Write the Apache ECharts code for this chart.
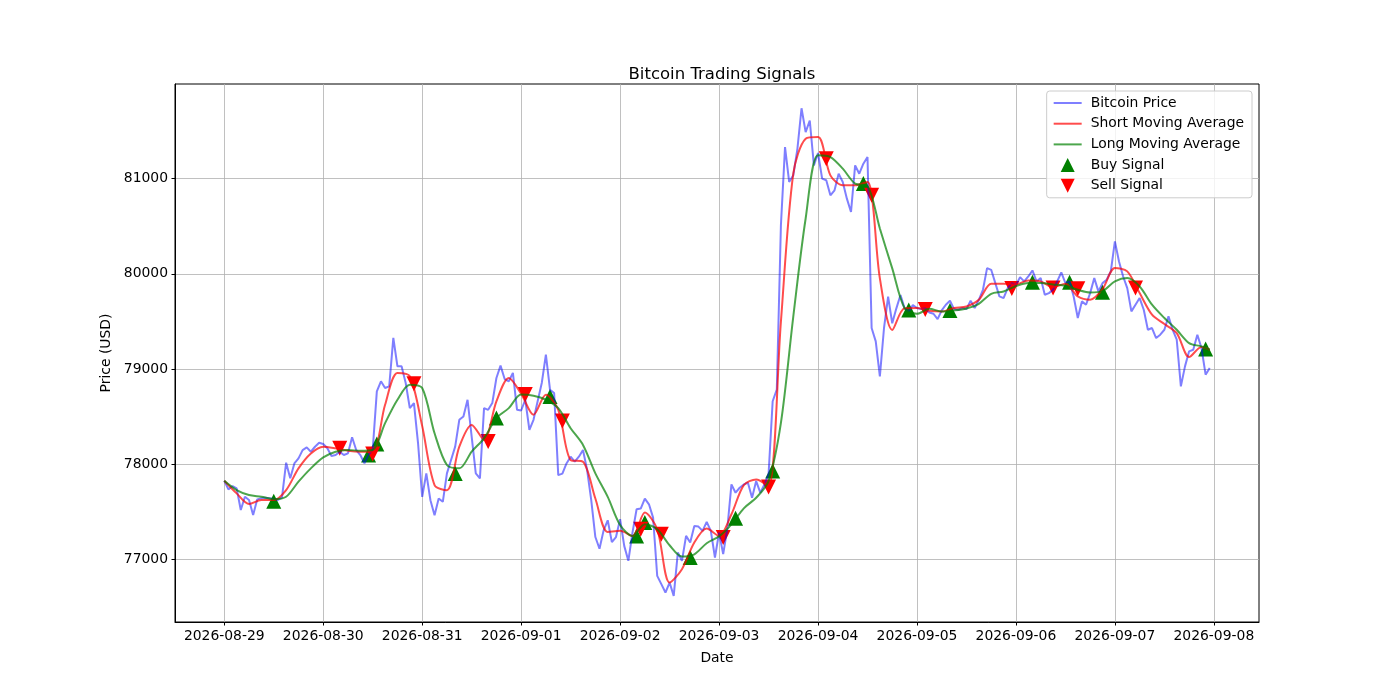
<!DOCTYPE html>
<html>
<head>
<meta charset="utf-8">
<title>Bitcoin Trading Signals</title>
<script src="https://cdn.jsdelivr.net/npm/echarts@6/dist/echarts.min.js"></script>
<style>
  html, body { margin: 0; padding: 0; background: #fff; }
  #chart { width: 1400px; height: 700px; }
</style>
</head>
<body>
<div id="chart"></div>
<script>
// x tick labels, one per day (24 hourly points each)
var dayLabels = ['2026-08-29', '2026-08-30', '2026-08-31', '2026-09-01', '2026-09-02', '2026-09-03',
                 '2026-09-04', '2026-09-05', '2026-09-06', '2026-09-07', '2026-09-08'];
var yTicks = [77000, 78000, 79000, 80000, 81000];

// hourly price, starting 2026-08-29 00:00 (one line per day)
var price = [
  77825, 77734, 77769, 77745, 77517, 77657, 77622, 77465, 77629, 77640, 77647, 77640, 77633, 77622, 77650, 78014, 77850, 78007, 78060, 78147, 78175, 78130, 78182, 78224,
  78211, 78166, 78085, 78095, 78130, 78095, 78113, 78282, 78148, 78095, 78007, 78100, 78150, 78764, 78870, 78800, 78817, 79327, 79028, 79028, 78852, 78588, 78640, 78218,
  77655, 77902, 77620, 77462, 77638, 77603, 77902, 78043, 78183, 78465, 78500, 78676, 78289, 77902, 77849, 78588, 78570, 78641, 78905, 79035, 78894, 78870, 78958, 78570,
  78563, 78676, 78360, 78465, 78660, 78852, 79150, 78782, 78747, 77884, 77900, 78007, 78078, 78025, 78078, 78148, 77937, 77620, 77233, 77110, 77303, 77409, 77180, 77233,
  77420, 77140, 76983, 77280, 77525, 77532, 77637, 77577, 77437, 76825, 76738, 76650, 76755, 76615, 77070, 76983, 77245, 77175, 77350, 77343, 77298, 77392, 77298, 77018,
  77280, 77053, 77320, 77786, 77699, 77751, 77786, 77804, 77646, 77821, 77699, 77786, 77891, 78660, 78782, 80510, 81332, 80965, 81035, 81314, 81740, 81489, 81611, 81140,
  81270, 81000, 80983, 80825, 80878, 81052, 80965, 80790, 80650, 81140, 81052, 81157, 81227, 79430, 79290, 78921, 79428, 79760, 79480, 79637, 79777, 79637, 79603, 79672,
  79640, 79630, 79636, 79594, 79580, 79524, 79615, 79675, 79717, 79629, 79622, 79640, 79629, 79717, 79640, 79727, 79832, 80060, 80042, 79902, 79762, 79745, 79850, 79902,
  79880, 79965, 79920, 79972, 80035, 79920, 79955, 79780, 79797, 79832, 79920, 80014, 79902, 79920, 79762, 79535, 79710, 79675, 79797, 79955, 79815, 79902, 79937, 80024,
  80340, 80130, 79972, 79850, 79605, 79675, 79745, 79622, 79412, 79430, 79325, 79360, 79412, 79552, 79412, 79307, 78817, 79027, 79185, 79202, 79360, 79220, 78940, 79010
];

// moving averages read every 3 hours (last value is the final hour)
var maStep = 3;
var shortMA = [
  77825, 77692, 77580, 77622, 77622, 77727, 77955, 78112,
  78183, 78166, 78141, 78130, 78130, 78623, 78958, 78923,
  78400, 77779, 77726, 78183, 78412, 78254, 78659, 78905,
  78740, 78518, 78729, 78570, 78043, 78025, 77638, 77286,
  77298, 77245, 77490, 77315, 76755, 76895, 77175, 77322,
  77245, 77472, 77779, 77838, 77769, 79498, 81052, 81419,
  81437, 81035, 80930, 80930, 80965, 79952, 79410, 79638,
  79640, 79611, 79604, 79640, 79657, 79727, 79895, 79895,
  79888, 79930, 79920, 79860, 79895, 79762, 79727, 79839,
  80060, 80025, 79797, 79570, 79472, 79377, 79125, 79230,
  79202
];
var longMA = [
  77825, 77727, 77675, 77657, 77632, 77657, 77815, 77955,
  78070, 78130, 78148, 78140, 78148, 78430, 78676, 78835,
  78800, 78324, 77990, 77955, 78130, 78271, 78483, 78588,
  78730, 78718, 78676, 78588, 78377, 78201, 77902, 77655,
  77360, 77245, 77368, 77315, 77147, 77028, 77052, 77168,
  77240, 77367, 77535, 77646, 77821, 78432, 79550, 80581,
  81245, 81227, 81105, 80948, 80923, 80476, 80057, 79638,
  79580, 79632, 79604, 79615, 79636, 79685, 79790, 79814,
  79870, 79902, 79902, 79888, 79874, 79832, 79804, 79818,
  79920, 79955, 79867, 79675, 79535, 79412, 79272, 79237,
  79202
];

// signals: hour index and value
var buyHours  = [12, 35, 37, 56, 66, 79, 100, 102, 113, 124, 133, 155, 166, 176, 196, 205, 213, 238];
var buyValues = [77610, 78095, 78211, 77902, 78483, 78710, 77245, 77385, 77017, 77430, 77926, 80948, 79620, 79615, 79910, 79910, 79805, 79210];
var sellHours  = [28, 36, 46, 64, 73, 82, 101, 106, 121, 132, 146, 157, 170, 191, 201, 207, 221];
var sellValues = [78166, 78106, 78845, 78236, 78730, 78454, 77315, 77262, 77228, 77758, 81210, 80825, 79625, 79845, 79850, 79843, 79850];

var lastHour = price.length - 1;
var priceData = price.map(function (v, i) { return [i, v]; });
function maData(arr) {
  return arr.map(function (v, i) { return [Math.min(i * maStep, lastHour), v]; });
}
var buyData = buyHours.map(function (h, i) { return [h, buyValues[i]]; });
var sellData = sellHours.map(function (h, i) { return [h, sellValues[i]]; });
var xTicks = dayLabels.map(function (d, i) { return i * 24; });

var font = 'DejaVu Sans';
var lineIcon = 'path://M0,0L28,0L28,2L0,2Z';
var upIcon = 'path://M1,0L2,2L0,2Z';
var downIcon = 'path://M0,0L2,0L1,2Z';

var chart = echarts.init(document.getElementById('chart'), null, { renderer: 'canvas' });
var option = {
  animation: false,
  backgroundColor: '#ffffff',
  textStyle: { fontFamily: font },
  title: {
    text: 'Bitcoin Trading Signals',
    left: 717, top: 61, textAlign: 'center',
    textStyle: { fontFamily: font, fontSize: 16.5, fontWeight: 'normal', color: '#000' }
  },
  legend: {
    orient: 'vertical',
    right: 148, top: 91,
    itemWidth: 28, itemHeight: 14, itemGap: 6.7,
    padding: [5, 8, 5, 7],
    backgroundColor: 'rgba(255,255,255,0.8)',
    borderColor: '#cccccc', borderWidth: 1, borderRadius: 3,
    textStyle: { fontFamily: font, fontSize: 13.9, color: '#000', padding: [0, 0, 0, 4] },
    data: [
      { name: 'Bitcoin Price', icon: lineIcon },
      { name: 'Short Moving Average', icon: lineIcon },
      { name: 'Long Moving Average', icon: lineIcon },
      { name: 'Buy Signal', icon: upIcon },
      { name: 'Sell Signal', icon: downIcon }
    ]
  },
  grid: {
    left: 175, right: 141, top: 84, bottom: 78,
    show: true, borderColor: '#000', borderWidth: 1, backgroundColor: 'transparent'
  },
  xAxis: {
    type: 'value',
    min: -11.95, max: 250.95,
    name: 'Date', nameLocation: 'middle', nameGap: 29,
    nameTextStyle: { fontFamily: font, fontSize: 13.9, color: '#000' },
    axisLine: { show: true, onZero: false, lineStyle: { color: '#000', width: 1 } },
    axisTick: { show: true, length: 3.5, customValues: xTicks, lineStyle: { color: '#000' } },
    axisLabel: {
      customValues: xTicks, margin: 7,
      fontFamily: font, fontSize: 13.9, color: '#000',
      formatter: function (v) { return dayLabels[Math.round(v / 24)]; }
    },
    splitLine: { show: true, lineStyle: { color: '#b0b0b0', width: 0.8 } }
  },
  yAxis: {
    type: 'value',
    min: 76340, max: 81995,
    name: 'Price (USD)', nameLocation: 'middle', nameGap: 54, nameRotate: 90,
    nameTextStyle: { fontFamily: font, fontSize: 13.9, color: '#000' },
    axisLine: { show: true, onZero: false, lineStyle: { color: '#000', width: 1 } },
    axisTick: { show: true, length: 3.5, customValues: yTicks, lineStyle: { color: '#000' } },
    axisLabel: {
      customValues: yTicks, margin: 7, fontFamily: font, fontSize: 13.9, color: '#000',
      formatter: function (v) { return String(v); }
    },
    splitLine: { show: true, lineStyle: { color: '#b0b0b0', width: 0.8 } }
  },
  series: [
    {
      name: 'Bitcoin Price', type: 'line', data: priceData,
      symbol: 'none', lineStyle: { color: 'rgba(0,0,255,0.5)', width: 2 },
      itemStyle: { color: 'rgba(0,0,255,0.5)' }
    },
    {
      name: 'Short Moving Average', type: 'line', data: maData(shortMA), smooth: 0.3,
      symbol: 'none', lineStyle: { color: 'rgba(255,0,0,0.7)', width: 2 },
      itemStyle: { color: 'rgba(255,0,0,0.7)' }
    },
    {
      name: 'Long Moving Average', type: 'line', data: maData(longMA), smooth: 0.3,
      symbol: 'none', lineStyle: { color: 'rgba(0,128,0,0.7)', width: 2 },
      itemStyle: { color: 'rgba(0,128,0,0.7)' }
    },
    {
      name: 'Buy Signal', type: 'scatter', data: buyData,
      symbol: 'triangle', symbolSize: 15,
      itemStyle: { color: '#008000', opacity: 1 }
    },
    {
      name: 'Sell Signal', type: 'scatter', data: sellData,
      symbol: downIcon, symbolSize: 15,
      itemStyle: { color: '#ff0000', opacity: 1 }
    }
  ]
};
chart.setOption(option);
</script>
</body>
</html>
